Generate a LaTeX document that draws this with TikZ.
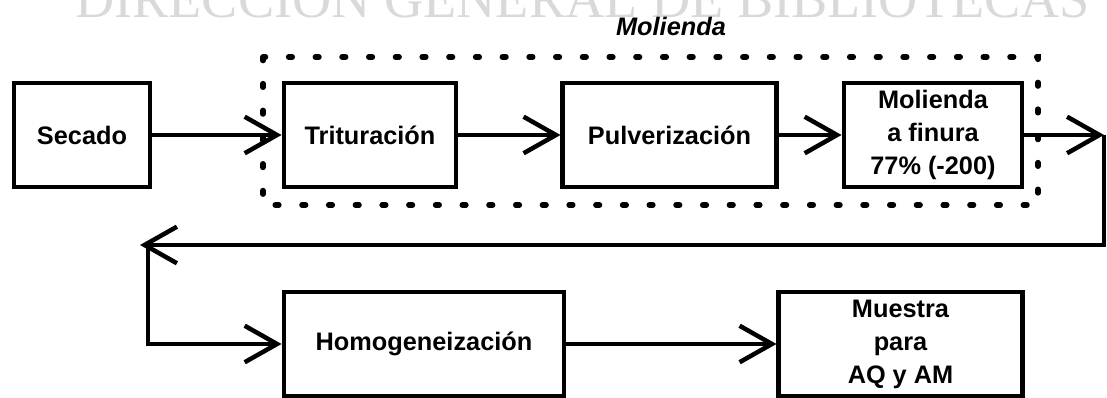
\documentclass[tikz,border=0pt]{standalone}
\usepackage{fontspec}
\setmainfont{Liberation Sans}
\newfontfamily\wmfont{Liberation Serif}
\usetikzlibrary{arrows.meta}

\begin{document}
\begin{tikzpicture}
			[x=0.025cm,y=-0.025cm,
			box/.style={draw,line width=3.4pt,minimum height=2.6cm,align=center,
				font=\fontsize{18}{23.5}\selectfont\bfseries},
			>={Straight Barb[length=23pt,width=26pt]}]
			\useasboundingbox (0,0) rectangle (1107,398);
			% watermark
			\node[anchor=base west,inner sep=0pt,text=gray!30,
				font=\wmfont\fontsize{38.6}{40}\selectfont] (W) at (75,18)
				{DIRECCION GENERAL DE BIBLIOTECAS};
			% grinding group
			\draw[line width=4pt,line cap=round,dash pattern=on 2.5pt off 16.5pt]
				(263,57) rectangle (1038,205);
			\node[font=\fontsize{18}{23.5}\selectfont\bfseries\itshape] (T) at (671,26) {Molienda};
			\node[box,minimum width=3.4cm] (A) at (82,135) {Secado};
			\node[box,minimum width=4.3cm] (B) at (370,135) {Trituración};
			\node[box,minimum width=5.33cm] (C) at (669.5,135) {Pulverización};
			\node[box,minimum width=4.45cm] (D) at (933,135) {Molienda\\a finura\\77\% (-200)};
			\node[box,minimum width=7cm] (E) at (424,344) {Homogeneización};
			\node[box,minimum width=6.08cm] (F) at (900.5,344) {Muestra\\para\\AQ y AM};
			\coordinate (P) at (1104,135);
			\coordinate (Q) at (140,245);
			\coordinate (R) at (148,245);
			\path[->,draw,line width=3.2pt]
			(A) edge (B)
			(B) edge (C)
			(C) edge (D)
			(D) edge (P)
			(E) edge (F);
			\draw[->,line width=3.2pt] (P) |- (Q);
			\draw[->,line width=3.2pt] (R) |- (E.west);
		\end{tikzpicture}
\end{document}
